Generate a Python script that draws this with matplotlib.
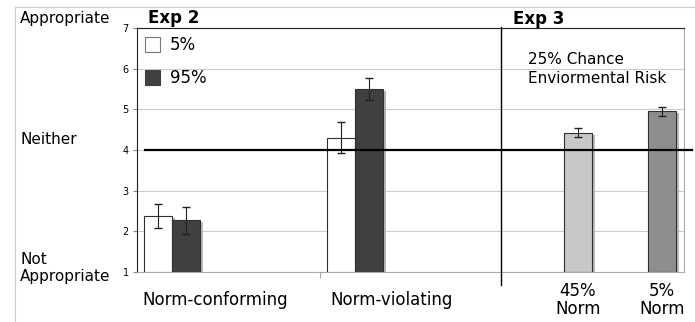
import matplotlib
matplotlib.use("Agg")
import matplotlib.pyplot as plt
from matplotlib.patches import Rectangle

# Exp 2
exp2_groups = ['Norm-conforming', 'Norm-violating']
exp2_low = [2.38, 4.30]      # 5%
exp2_low_err = [0.30, 0.38]
exp2_high = [2.27, 5.50]     # 95%
exp2_high_err = [0.33, 0.28]

# Exp 3
exp3_labels = ['45%\nNorm', '5%\nNorm']
exp3_vals = [4.42, 4.95]
exp3_err = [0.11, 0.11]

fig = plt.figure(figsize=(6.95, 3.22), dpi=100)
ax = fig.add_axes([137 / 695, 1 - 272 / 322, 547 / 695, 244 / 322])

# bar positions (bar width = 1)
exp2_x = [0.75, 7.29]
exp3_x = [15.75, 18.75]
edge = '#303030'
sx, sy = 0.09, 0.05   # drop shadow offset


def shadowed_bar(x, val, color):
    ax.bar(x + sx, val - 1, bottom=1 - sy, width=1, color='#b8b8b8',
           linewidth=0, zorder=2.5)
    ax.bar(x, val - 1, bottom=1, width=1, color=color,
           edgecolor=edge, linewidth=0.8, zorder=3)


for i in range(2):
    shadowed_bar(exp2_x[i], exp2_low[i], 'white')
    ax.errorbar(exp2_x[i], exp2_low[i], yerr=exp2_low_err[i], color='#202020',
                capsize=3, linewidth=0.8, zorder=4)
    shadowed_bar(exp2_x[i] + 1, exp2_high[i], '#404040')
    ax.errorbar(exp2_x[i] + 1, exp2_high[i], yerr=exp2_high_err[i], color='#202020',
                capsize=3, linewidth=0.8, zorder=4)

exp3_colors = ['#c8c8c8', '#8e8e8e']
for i in range(2):
    shadowed_bar(exp3_x[i], exp3_vals[i], exp3_colors[i])
    ax.errorbar(exp3_x[i], exp3_vals[i], yerr=exp3_err[i], color='#202020',
                capsize=3, linewidth=0.8, zorder=4)

ax.set_xlim(0, 547 / 28)
ax.set_ylim(1, 7)
ax.set_yticks(range(1, 8))
ax.tick_params(axis='y', labelsize=7, length=3, color='#888888', pad=3)
ax.set_xticks([6.54])
ax.set_xticklabels([''])
ax.tick_params(axis='x', length=4, color='#aaaaaa')
ax.grid(axis='y', color='#cccccc', linewidth=0.8, zorder=0)

ax.spines['left'].set_color('#202020')
ax.spines['top'].set_color('#202020')
ax.spines['right'].set_color('#aaaaaa')
ax.spines['bottom'].set_color('#aaaaaa')

# neutral line at 4
ax.axhline(4, xmin=8 / 547, xmax=555 / 547, color='black', linewidth=1.6,
           clip_on=False, zorder=5)
# divider between experiments
ax.plot([13.0, 13.0], [0.68, 7.02], color='black', linewidth=1.0,
        clip_on=False, zorder=5)

# category labels
for x, lab in zip([2.8, 9.1], exp2_groups):
    ax.text(x, 0.3, lab, ha='center', va='center', fontsize=12)
for x, lab in zip(exp3_x, exp3_labels):
    ax.text(x, 0.30, lab, ha='center', va='center', fontsize=12, linespacing=1.0)

# left-side anchor labels
fig.text(20 / 695, 1 - 18 / 322, 'Appropriate', fontsize=11, va='center')
fig.text(20 / 695, 1 - 140 / 322, 'Neither', fontsize=11, va='center')
fig.text(20 / 695, 1 - 268 / 322, 'Not\nAppropriate', fontsize=11, va='center',
         linespacing=1.15)

fig.text(148 / 695, 1 - 18 / 322, 'Exp 2', fontsize=12, fontweight='bold', va='center')
fig.text(513 / 695, 1 - 19 / 322, 'Exp 3', fontsize=12, fontweight='bold', va='center')

# legend
ax.add_patch(Rectangle((145 / 695, 1 - 52 / 322), 15 / 695, 15 / 322,
                       transform=fig.transFigure, facecolor='white',
                       edgecolor='#777777', linewidth=0.8, zorder=6))
ax.add_patch(Rectangle((145 / 695, 1 - 85 / 322), 15 / 695, 15 / 322,
                       transform=fig.transFigure, facecolor='#404040',
                       edgecolor='#404040', linewidth=0.8, zorder=6))
fig.text(170 / 695, 1 - 45 / 322, '5%', fontsize=12, va='center')
fig.text(170 / 695, 1 - 78 / 322, '95%', fontsize=12, va='center')

fig.text(528 / 695, 1 - 69 / 322, '25% Chance\nEnviormental Risk', fontsize=11,
         va='center', linespacing=1.3)

# outer frame
fig.add_artist(plt.Line2D([15 / 695, 1], [1 - 7 / 322, 1 - 7 / 322],
                          color='#cccccc', linewidth=0.8, transform=fig.transFigure))
fig.add_artist(plt.Line2D([15 / 695, 15 / 695], [0, 1 - 7 / 322],
                          color='#cccccc', linewidth=0.8, transform=fig.transFigure))

fig.savefig('out.png', dpi=100)
